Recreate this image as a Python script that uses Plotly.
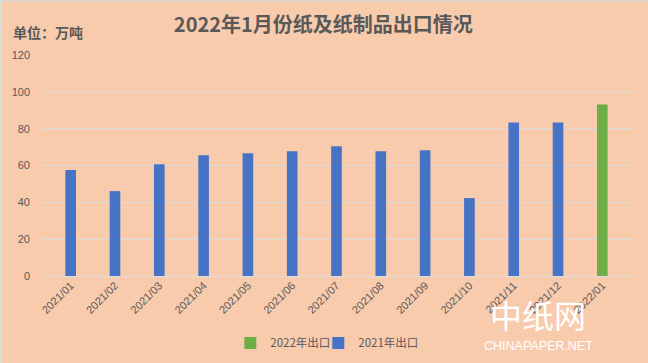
import plotly.graph_objects as go

categories = ["2021/01", "2021/02", "2021/03", "2021/04", "2021/05", "2021/06", "2021/07",
              "2021/08", "2021/09", "2021/10", "2021/11", "2021/12", "2022/01"]
exports_2021 = [57.5, 46.1, 60.7, 65.6, 66.6, 67.7, 70.4, 67.7, 68.3, 42.3, 83.4, 83.4, None]
exports_2022 = [None] * 12 + [93.1]
y_ticks = [0, 20, 40, 60, 80, 100, 120]

bg = "#F8CBAD"
grey = "#595959"
fig = go.Figure()
fig.add_trace(go.Bar(x=categories, y=exports_2022, name="2022年出口",
                     marker=dict(color="#6DAE47", line=dict(width=0)), width=0.24,
                     legendwidth=43))
fig.add_trace(go.Bar(x=categories, y=exports_2021, name="2021年出口",
                     marker=dict(color="#4673C6", line=dict(width=0)), width=0.24,
                     legendwidth=64))

fig.update_layout(
    width=648, height=363,
    paper_bgcolor=bg, plot_bgcolor=bg,
    margin=dict(l=41, r=16, t=55, b=87, autoexpand=False),
    barmode="overlay",
    font=dict(family="Noto Sans CJK SC, Liberation Sans, sans-serif", color=grey, size=11),
    title=dict(text="<b>2022年1月份纸及纸制品出口情况</b>", x=0.499, xanchor="center",
               y=0.931, yanchor="middle", font=dict(size=20, color=grey)),
    showlegend=True,
    legend=dict(orientation="h", x=0.487, xanchor="center", y=-0.303, yanchor="middle",
                font=dict(size=11.5, color=grey), bgcolor="rgba(0,0,0,0)",
                itemwidth=30, traceorder="normal"),
    xaxis=dict(type="category", tickangle=-45, showgrid=False, showline=False,
               range=[-0.67, 12.67], automargin=False,
               ticks="", tickfont=dict(size=11, family="Liberation Sans, sans-serif", color=grey)),
    yaxis=dict(range=[0, 120], tickvals=y_ticks, showgrid=True, gridcolor="#DCDCDC",
               gridwidth=1, zeroline=True, zerolinecolor="#DCDCDC", zerolinewidth=1,
               ticks="", ticklabelstandoff=10, automargin=False,
               tickfont=dict(size=11, family="Liberation Sans, sans-serif", color=grey)),
    annotations=[
        dict(text="<b>单位：万吨</b>", xref="paper", yref="paper", x=-0.051, y=1.104,
             xanchor="left", yanchor="middle", showarrow=False,
             font=dict(size=14, color=grey)),
        dict(text="中纸网", xref="paper", yref="paper", x=0.841, y=-0.172,
             xanchor="center", yanchor="middle", showarrow=False,
             font=dict(size=32, color="white", family="Noto Sans CJK SC")),
        dict(text="CHINAPAPER.NET", xref="paper", yref="paper", x=0.841, y=-0.317,
             xanchor="center", yanchor="middle", showarrow=False,
             font=dict(size=12.5, color="white", family="Liberation Sans")),
    ],
    shapes=[
        dict(type="line", xref="paper", yref="paper", x0=-0.0685, x1=-0.0685, y0=-0.4, y1=1.25,
             line=dict(width=2, color="#D5E3D8")),
        dict(type="line", xref="paper", yref="paper", x0=-0.07, x1=1.03, y0=1.2465, y1=1.2465,
             line=dict(width=1.5, color="#D8D8D8")),
    ],
)

fig.write_html("out.html")
